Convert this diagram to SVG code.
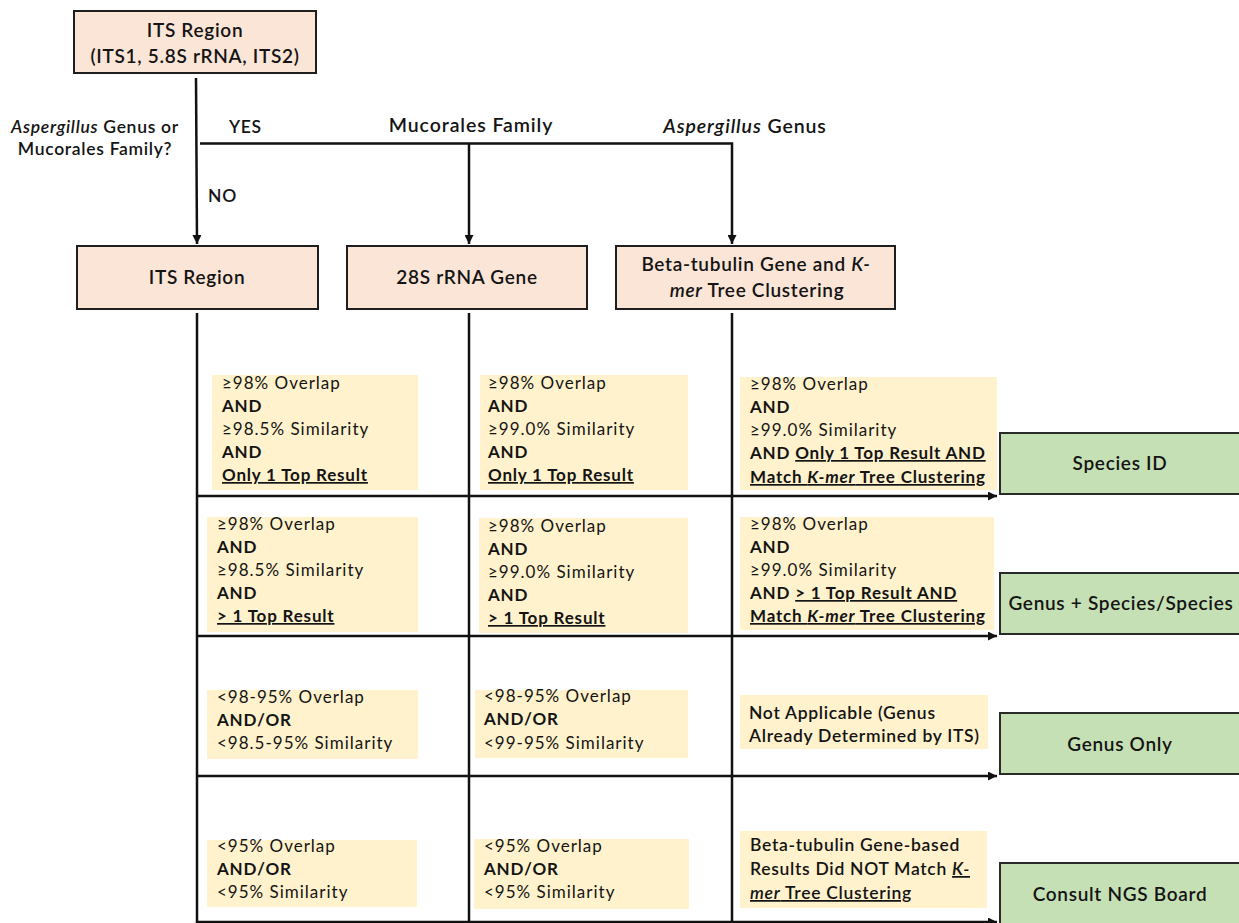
<svg xmlns="http://www.w3.org/2000/svg" width="1239" height="923" viewBox="0 0 1239 923">
<defs>
<style>
text{font-family:Lato,"Liberation Sans",sans-serif;fill:#141414}
.hd{font-size:19px;font-weight:600;letter-spacing:0.7px}
.lb{font-size:17.5px;font-weight:600;letter-spacing:0.7px}
.lb2{font-size:19.5px;font-weight:600;letter-spacing:0.9px}
.b{font-size:17px;letter-spacing:1px}
.bb{font-weight:700;letter-spacing:0.8px}
.u{text-decoration:underline}
.i{font-style:italic}
.peach{fill:#fbe5d6;stroke:#1e1e1e;stroke-width:2}
.green{fill:#c5e0b4;stroke:#2a2a2a;stroke-width:2}
.note{fill:#fff2cc}
.ln{fill:none;stroke:#111;stroke-width:2.5}
</style>
<marker id="ah" viewBox="0 0 10 10" refX="10" refY="5" markerWidth="10" markerHeight="9" markerUnits="userSpaceOnUse" orient="auto">
<path d="M0,0 L10,5 L0,10 z" fill="#111"/>
</marker>
</defs>
<rect width="1239" height="923" fill="#fff"/>

<g id="connectors">
<path class="ln" d="M196,78 L197,244" marker-end="url(#ah)"/>
<path class="ln" d="M200,143.5 H732 V244" marker-end="url(#ah)"/>
<path class="ln" d="M469,143.5 V244" marker-end="url(#ah)"/>
<path class="ln" d="M197,313 V923"/>
<path class="ln" d="M469,313 V923"/>
<path class="ln" d="M732,313 V923"/>
<path class="ln" d="M197,496 H997" marker-end="url(#ah)"/>
<path class="ln" d="M197,636 H997" marker-end="url(#ah)"/>
<path class="ln" d="M197,776 H997" marker-end="url(#ah)"/>
<path class="ln" d="M197,922 H997" marker-end="url(#ah)"/>
</g>

<g id="labels">
<text class="lb" x="95" y="133" text-anchor="middle"><tspan class="i">Aspergillus</tspan> Genus or</text>
<text class="lb" x="95" y="155" text-anchor="middle">Mucorales Family?</text>
<text class="lb" x="229" y="133">YES</text>
<text class="lb" x="208" y="202">NO</text>
<text class="lb2" x="471" y="132" text-anchor="middle">Mucorales Family</text>
<text class="lb2" x="745" y="133" text-anchor="middle"><tspan class="i">Aspergillus</tspan> Genus</text>
</g>

<g id="node-its-top">
<rect class="peach" x="74" y="11" width="242" height="62"/>
<text class="hd" x="195" y="37" text-anchor="middle">ITS Region</text>
<text class="hd" x="195" y="63" text-anchor="middle">(ITS1, 5.8S rRNA, ITS2)</text>
</g>

<g id="node-its">
<rect class="peach" x="77" y="246" width="241" height="63"/>
<text class="hd" x="197" y="284" text-anchor="middle">ITS Region</text>
</g>

<g id="node-28s">
<rect class="peach" x="347" y="246" width="240" height="63"/>
<text class="hd" x="467" y="284" text-anchor="middle">28S rRNA Gene</text>
</g>

<g id="node-beta">
<rect class="peach" x="616" y="246" width="279" height="63"/>
<text class="hd" x="756" y="271" text-anchor="middle">Beta-tubulin Gene and <tspan class="i">K-</tspan></text>
<text class="hd" x="757" y="297" text-anchor="middle"><tspan class="i">mer</tspan> Tree Clustering</text>
</g>

<g id="node-its-r1">
<rect class="note" x="212" y="375" width="206" height="115"/>
<text class="b" x="222" y="389">≥98% Overlap</text>
<text class="b bb" x="222" y="412">AND</text>
<text class="b" x="222" y="435">≥98.5% Similarity</text>
<text class="b bb" x="222" y="458">AND</text>
<text class="b bb u" x="222" y="481">Only 1 Top Result</text>
</g>

<g id="node-28s-r1">
<rect class="note" x="480" y="375" width="208" height="115"/>
<text class="b" x="488" y="389">≥98% Overlap</text>
<text class="b bb" x="488" y="412">AND</text>
<text class="b" x="488" y="435">≥99.0% Similarity</text>
<text class="b bb" x="488" y="458">AND</text>
<text class="b bb u" x="488" y="481">Only 1 Top Result</text>
</g>

<g id="node-beta-r1">
<rect class="note" x="740" y="377" width="257" height="113"/>
<text class="b" x="750" y="390">≥98% Overlap</text>
<text class="b bb" x="750" y="413">AND</text>
<text class="b" x="750" y="436">≥99.0% Similarity</text>
<text class="b bb" x="750" y="459">AND <tspan class="u">Only 1 Top Result AND</tspan></text>
<text class="b bb u" x="750" y="483">Match <tspan class="i">K-mer</tspan> Tree Clustering</text>
</g>

<g id="node-its-r2">
<rect class="note" x="207" y="517" width="211" height="115"/>
<text class="b" x="217" y="530">≥98% Overlap</text>
<text class="b bb" x="217" y="553">AND</text>
<text class="b" x="217" y="576">≥98.5% Similarity</text>
<text class="b bb" x="217" y="599">AND</text>
<text class="b bb u" x="217" y="622">&gt; 1 Top Result</text>
</g>

<g id="node-28s-r2">
<rect class="note" x="479" y="518" width="209" height="115"/>
<text class="b" x="488" y="532">≥98% Overlap</text>
<text class="b bb" x="488" y="555">AND</text>
<text class="b" x="488" y="578">≥99.0% Similarity</text>
<text class="b bb" x="488" y="601">AND</text>
<text class="b bb u" x="488" y="624">&gt; 1 Top Result</text>
</g>

<g id="node-beta-r2">
<rect class="note" x="740" y="517" width="254" height="113"/>
<text class="b" x="750" y="530">≥98% Overlap</text>
<text class="b bb" x="750" y="553">AND</text>
<text class="b" x="750" y="576">≥99.0% Similarity</text>
<text class="b bb" x="750" y="599">AND <tspan class="u">&gt; 1 Top Result AND</tspan></text>
<text class="b bb u" x="750" y="622">Match <tspan class="i">K-mer</tspan> Tree Clustering</text>
</g>

<g id="node-its-r3">
<rect class="note" x="207" y="690" width="211" height="69"/>
<text class="b" x="217" y="703">&lt;98-95% Overlap</text>
<text class="b bb" x="217" y="726">AND/OR</text>
<text class="b" x="217" y="749">&lt;98.5-95% Similarity</text>
</g>

<g id="node-28s-r3">
<rect class="note" x="475" y="690" width="213" height="68"/>
<text class="b" x="484" y="702">&lt;98-95% Overlap</text>
<text class="b bb" x="484" y="725">AND/OR</text>
<text class="b" x="484" y="749">&lt;99-95% Similarity</text>
</g>

<g id="node-beta-r3">
<rect class="note" x="740" y="695" width="248" height="54"/>
<text class="lb" x="749" y="719">Not Applicable (Genus</text>
<text class="lb" x="749" y="742">Already Determined by ITS)</text>
</g>

<g id="node-its-r4">
<rect class="note" x="207" y="840" width="210" height="67"/>
<text class="b" x="217" y="852">&lt;95% Overlap</text>
<text class="b bb" x="217" y="875">AND/OR</text>
<text class="b" x="217" y="898">&lt;95% Similarity</text>
</g>

<g id="node-28s-r4">
<rect class="note" x="474" y="839" width="215" height="70"/>
<text class="b" x="484" y="852">&lt;95% Overlap</text>
<text class="b bb" x="484" y="875">AND/OR</text>
<text class="b" x="484" y="898">&lt;95% Similarity</text>
</g>

<g id="node-beta-r4">
<rect class="note" x="740" y="831" width="247" height="77"/>
<text class="lb" x="750" y="851">Beta-tubulin Gene-based</text>
<text class="lb" x="750" y="875">Results Did NOT Match <tspan class="i u">K-</tspan></text>
<text class="lb u" x="750" y="899"><tspan class="i">mer</tspan> Tree Clustering</text>
</g>

<g id="node-species-id">
<rect class="green" x="1000" y="433" width="260" height="61"/>
<text class="hd" x="1120" y="470" text-anchor="middle">Species ID</text>
</g>

<g id="node-genus-species">
<rect class="green" x="1000" y="573" width="260" height="61"/>
<text class="hd" x="1121" y="610" text-anchor="middle">Genus + Species/Species</text>
</g>

<g id="node-genus-only">
<rect class="green" x="1000" y="713" width="260" height="61"/>
<text class="hd" x="1120" y="751" text-anchor="middle">Genus Only</text>
</g>

<g id="node-consult">
<rect class="green" x="1000" y="863" width="260" height="80"/>
<text class="hd" x="1120" y="901" text-anchor="middle">Consult NGS Board</text>
</g>
</svg>
